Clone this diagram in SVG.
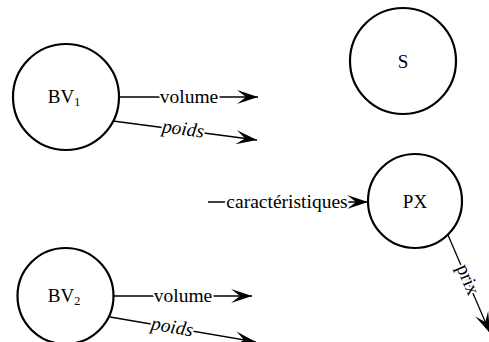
<svg xmlns="http://www.w3.org/2000/svg" width="489" height="342" viewBox="0 0 489 342">
<style>
.node{fill:#fff;stroke:#000;stroke-width:2.2}
.t{font-family:'Liberation Serif','Times New Roman',Times,'DejaVu Serif',serif;font-size:19px;fill:#000}
.lbl{font-family:'Liberation Serif','Times New Roman',Times,'DejaVu Serif',serif;font-size:19.5px;fill:#000;text-anchor:middle;stroke:#fff;stroke-width:4;paint-order:stroke;stroke-linejoin:round}
.it{font-style:italic}
.e{stroke:#000;stroke-width:1.3;fill:none;marker-end:url(#ah)}
</style>
<defs>
<marker id="ah" markerUnits="userSpaceOnUse" markerWidth="24" markerHeight="16" viewBox="-22 -8 24 16" refX="0" refY="0" orient="auto">
<path d="M0,0 L-21,-7 L-12,0 L-21,7 Z" fill="#000"/>
</marker>
</defs>
<rect width="489" height="342" fill="#fff"/>
<g id="connectors">
<g id="e1"><line class="e" x1="119" y1="97" x2="258" y2="97"/><text class="lbl" x="189" y="103">volume</text></g>
<g id="e2"><line class="e" x1="113" y1="121" x2="257" y2="140"/><text class="lbl it" transform="translate(183,130) rotate(7.5)" x="0" y="5">poids</text></g>
<g id="e3"><line class="e" x1="113" y1="296" x2="252" y2="296"/><text class="lbl" x="183" y="302">volume</text></g>
<g id="e4"><line class="e" x1="110" y1="317" x2="256" y2="342"/><text class="lbl it" transform="translate(172,328) rotate(9.7)" x="0" y="5">poids</text></g>
<g id="e5"><line class="e" x1="208" y1="202" x2="368" y2="202"/><text class="lbl" x="287" y="208">caractéristiques</text></g>
<g id="e6"><line class="e" x1="448" y1="235" x2="490" y2="333"/><text class="lbl" transform="translate(467,280) rotate(66.8)" x="0" y="5">prix</text></g>
</g>
<g id="BV1"><circle class="node" cx="66" cy="97" r="53"/><text class="t" x="64" y="103" text-anchor="middle">BV<tspan font-size="12" dy="3">1</tspan></text></g>
<g id="S"><circle class="node" cx="403" cy="61" r="53"/><text class="t" x="403" y="68" text-anchor="middle">S</text></g>
<g id="PX"><circle class="node" cx="415" cy="201" r="47"/><text class="t" x="415" y="208" text-anchor="middle">PX</text></g>
<g id="BV2"><circle class="node" cx="65.5" cy="296" r="48"/><text class="t" x="64" y="302" text-anchor="middle">BV<tspan font-size="12" dy="3">2</tspan></text></g>
</svg>
